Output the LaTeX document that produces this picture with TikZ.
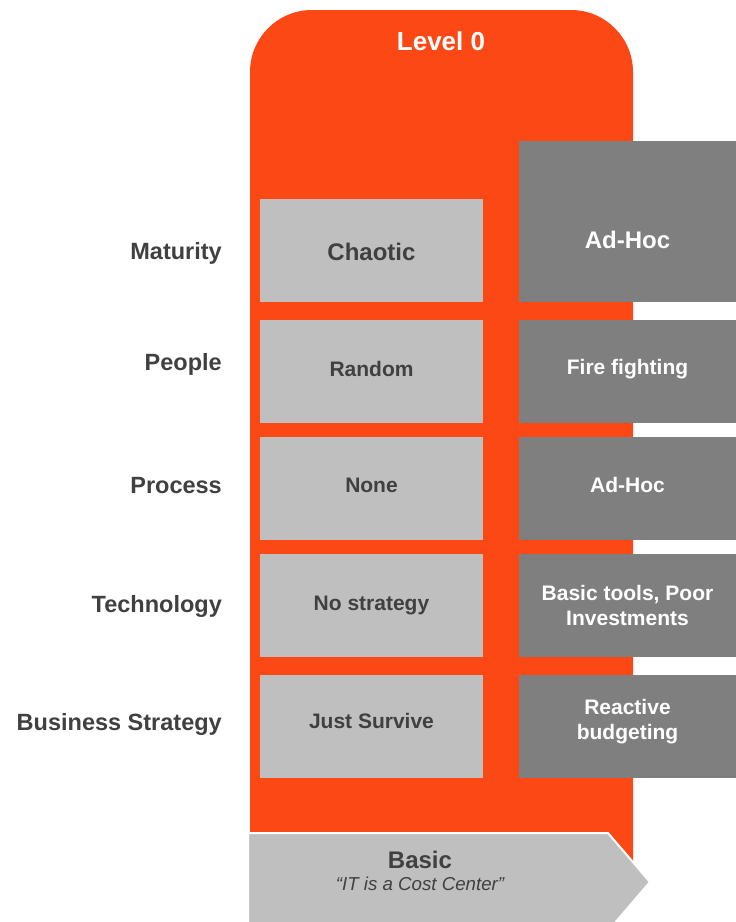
\documentclass[tikz,border=0pt]{standalone}
\usepackage{fontspec}
\setmainfont{Liberation Sans}
\definecolor{lvlorange}{HTML}{FB4814}
\definecolor{lightbox}{HTML}{BFBFBF}
\definecolor{darkbox}{HTML}{7F7F7F}
\definecolor{txtgrey}{HTML}{404040}
\begin{document}
\begin{tikzpicture}[x=1pt,y=-1pt,
  rowlabel/.style={anchor=east,inner sep=0pt,text height=16.8pt,text depth=0pt,
    font=\fontsize{23.5}{26}\selectfont\bfseries,text=txtgrey},
  lbox/.style={fill=lightbox,minimum width=223pt,minimum height=103pt,inner sep=0pt},
  dbox/.style={fill=darkbox,minimum width=217pt,minimum height=103pt,inner sep=0pt},
  smalltxt/.style={inner sep=0pt,align=center,font=\fontsize{21}{25}\selectfont\bfseries,
    text height=15pt,text depth=0pt},
  bigtxt/.style={inner sep=0pt,align=center,font=\fontsize{24}{28}\selectfont\bfseries,
    text height=17.2pt,text depth=0pt},
  multitxt/.style={inner sep=0pt,align=center,font=\fontsize{21}{25}\selectfont\bfseries,text=white}]
\useasboundingbox (0,0) rectangle (736,922);
% orange column
\fill[lvlorange] (250,870) [rounded corners=62pt] -- (250,10) -- (633,10) [sharp corners] -- (633,870) -- cycle;
\node[text=white,font=\fontsize{26}{30}\selectfont\bfseries,inner sep=0pt,text height=19pt,text depth=0pt] (level) at (441,41) {Level 0};
% light boxes
\node[lbox] (chaoticbox) at (371.5,250.5) {};
\node[lbox] (randombox) at (371.5,371.5) {};
\node[lbox] (nonebox) at (371.5,488.5) {};
\node[lbox] (nostratbox) at (371.5,605.5) {};
\node[lbox] (survivebox) at (371.5,726.5) {};
\node[bigtxt,text=txtgrey] (chaotic) at (371.5,252) {Chaotic};
\node[smalltxt,text=txtgrey] (random) at (371.5,369) {Random};
\node[smalltxt,text=txtgrey] (none) at (371.5,485) {None};
\node[smalltxt,text=txtgrey] (nostrat) at (371.5,603) {No strategy};
\node[smalltxt,text=txtgrey] (survive) at (371.5,721) {Just Survive};
% dark boxes
\node[dbox,minimum height=161pt] (adhoc1box) at (627.5,221.5) {};
\node[dbox] (firebox) at (627.5,371.5) {};
\node[dbox] (adhoc2box) at (627.5,488.5) {};
\node[dbox] (toolsbox) at (627.5,605.5) {};
\node[dbox] (reactivebox) at (627.5,726.5) {};
\node[bigtxt,text=white] (adhoc1) at (627.5,240) {Ad-Hoc};
\node[smalltxt,text=white] (fire) at (627.5,367) {Fire fighting};
\node[smalltxt,text=white] (adhoc2) at (627.5,485) {Ad-Hoc};
\node[multitxt] (tools) at (627.5,605.5) {Basic tools, Poor\\Investments};
\node[multitxt] (reactive) at (627.5,721.5) {Reactive\\budgeting};
% row labels
\node[rowlabel] (maturity) at (222,251) {Maturity};
\node[rowlabel] (people) at (222,362) {People};
\node[rowlabel] (process) at (222,485) {Process};
\node[rowlabel] (technology) at (222,604) {Technology};
\node[rowlabel] (business) at (222,722) {Business Strategy};
% bottom arrow
\fill[lightbox,draw=white,line width=2pt] (248,833) -- (608,833) -- (650,882) -- (608,931) -- (248,931) -- cycle;
\node[inner sep=0pt,text=txtgrey,bigtxt] (basic) at (420,860) {Basic};
\node[inner sep=0pt,text=txtgrey,font=\fontsize{18.7}{22}\selectfont\itshape] (cost) at (420,884) {“IT is a Cost Center”};
\end{tikzpicture}
\end{document}
